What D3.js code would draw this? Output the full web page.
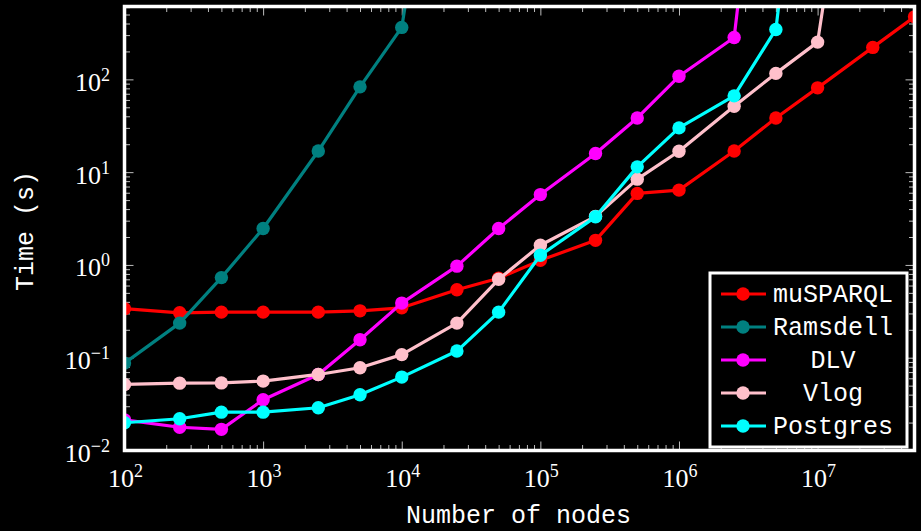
<!DOCTYPE html>
<html>
<head>
<meta charset="utf-8">
<script src="https://cdn.jsdelivr.net/npm/d3@7"></script>
<style>
  html, body { margin: 0; padding: 0; background: #000; }
  svg { display: block; }
</style>
</head>
<body>
<svg id="chart" width="921" height="531"></svg>
<script>
// Number of nodes at which every system was timed
const nodes = [100, 250, 500, 1000, 2500, 5000, 1e4, 2.5e4, 5e4, 1e5,
               2.5e5, 5e5, 1e6, 2.5e6, 5e6, 1e7, 2.5e7, 5e7];

// A run that did not finish is plotted far above the visible range
const TIMEOUT = 2e6;

// Running times in seconds, one entry per node count
const muSPARQL = [0.338, 0.305, 0.31, 0.31, 0.31, 0.32, 0.345, 0.54, 0.72, 1.12,
                  1.84, 5.9, 6.4, 16.9, 38.4, 81, 221, 472];
const ramsdell = [0.0875, 0.236, 0.73, 2.47, 16.9, 83, 363, TIMEOUT];
const dlv      = [0.0214, 0.0178, 0.0169, 0.0352, 0.066, 0.156, 0.388, 0.97, 2.47, 5.73,
                  15.9, 38.4, 108, 283, TIMEOUT];
const vlog     = [0.0515, 0.0532, 0.0535, 0.056, 0.066, 0.078, 0.108, 0.236, 0.70, 1.63,
                  3.34, 8.4, 16.8, 51.4, 116, 252, TIMEOUT];
const postgres = [0.0199, 0.022, 0.0259, 0.0259, 0.0289, 0.0399, 0.0618, 0.118, 0.31, 1.27,
                  3.3, 11.4, 30, 66.4, 345, TIMEOUT];

const seriesNames  = ["muSPARQL", "Ramsdell", "DLV", "Vlog", "Postgres"];
const seriesValues = [muSPARQL, ramsdell, dlv, vlog, postgres];
const seriesColors = ["#ff0000", "#008080", "#ff00ff", "#ffc0cb", "#00ffff"];

// Decade exponents shown as tick labels
const xExponents = [2, 3, 4, 5, 6, 7];
const yExponents = [-2, -1, 0, 1, 2];

const xTitle = "Number of nodes";
const yTitle = "Time (s)";

const plot = { left: 124.5, right: 914.5, top: 6.5, bottom: 450.5 };

const svg = d3.select("#chart");
svg.append("rect").attr("width", 921).attr("height", 531).attr("fill", "#000");

const x = d3.scaleLog().domain([100, 5e7]).range([plot.left, plot.right]);
const y = d3.scaleLog().domain([0.01, 610]).range([plot.bottom, plot.top]);

const xMajor = xExponents.map(e => Math.pow(10, e));
const yMajor = yExponents.map(e => Math.pow(10, e));
const minorOf = (majors, lo, hi) => {
  const out = [];
  majors.forEach(m => { for (let k = 2; k <= 9; k++) { const v = m * k; if (v > lo && v < hi) out.push(v); } });
  return out;
};
const xMinor = minorOf([1e2, 1e3, 1e4, 1e5, 1e6, 1e7], 100, 5e7);
const yMinor = minorOf([1e-2, 1e-1, 1, 10, 100], 0.01, 610);

// Inward tick marks on all four sides
const tickColor = "#bdbdbd";
function drawAxis(axis, transform) {
  const g = svg.append("g").attr("transform", transform).call(axis);
  g.select(".domain").remove();
  g.selectAll("line").attr("stroke", tickColor).attr("stroke-width", 1);
  g.selectAll("text").remove();
}
drawAxis(d3.axisBottom(x).tickValues(xMajor).tickSize(-9),   `translate(0,${plot.bottom})`);
drawAxis(d3.axisBottom(x).tickValues(xMinor).tickSize(-5.5), `translate(0,${plot.bottom})`);
drawAxis(d3.axisTop(x).tickValues(xMajor).tickSize(-9),      `translate(0,${plot.top})`);
drawAxis(d3.axisTop(x).tickValues(xMinor).tickSize(-5.5),    `translate(0,${plot.top})`);
drawAxis(d3.axisLeft(y).tickValues(yMajor).tickSize(-9),     `translate(${plot.left},0)`);
drawAxis(d3.axisLeft(y).tickValues(yMinor).tickSize(-5.5),   `translate(${plot.left},0)`);
drawAxis(d3.axisRight(y).tickValues(yMajor).tickSize(-9),    `translate(${plot.right},0)`);
drawAxis(d3.axisRight(y).tickValues(yMinor).tickSize(-5.5),  `translate(${plot.right},0)`);

// Power-of-ten tick labels
const serif = "'Liberation Serif', 'DejaVu Serif', serif";
const fmtExp = e => (e < 0 ? "\u2212" + (-e) : String(e));
function powLabel(sel, e) {
  sel.append("tspan").text("10");
  sel.append("tspan").attr("font-size", 18).attr("dy", -10).text(fmtExp(e));
}
xExponents.forEach(e => {
  const t = svg.append("text")
    .attr("x", x(Math.pow(10, e)) + 1)
    .attr("y", 486.5)
    .attr("text-anchor", "middle")
    .attr("font-family", serif).attr("font-size", 26).attr("fill", "#fff");
  powLabel(t, e);
});
yExponents.forEach(e => {
  const t = svg.append("text")
    .attr("x", 110)
    .attr("y", y(Math.pow(10, e)) + 11.5)
    .attr("text-anchor", "end")
    .attr("font-family", serif).attr("font-size", 26).attr("fill", "#fff");
  powLabel(t, e);
});

// Axis titles
const mono = "'Liberation Mono', 'DejaVu Sans Mono', monospace";
svg.append("text")
  .attr("x", 518.5).attr("y", 523)
  .attr("text-anchor", "middle")
  .attr("font-family", mono).attr("font-size", 25).attr("fill", "#fff")
  .text(xTitle);
svg.append("text")
  .attr("transform", "translate(33,231) rotate(-90)")
  .attr("text-anchor", "middle")
  .attr("font-family", mono).attr("font-size", 25).attr("fill", "#fff")
  .text(yTitle);

// Series
svg.append("clipPath").attr("id", "plotClip")
  .append("rect")
  .attr("x", plot.left).attr("y", plot.top)
  .attr("width", plot.right - plot.left).attr("height", plot.bottom - plot.top);

const line = d3.line().x(d => x(d.n)).y(d => y(d.t));
const layer = svg.append("g").attr("clip-path", "url(#plotClip)");
seriesValues.forEach((vals, i) => {
  const pts = vals.map((t, j) => ({ n: nodes[j], t }));
  const g = layer.append("g");
  g.append("path").datum(pts)
    .attr("d", line)
    .attr("fill", "none")
    .attr("stroke", seriesColors[i])
    .attr("stroke-width", 3.2)
    .attr("stroke-linejoin", "round");
  g.selectAll("circle").data(pts.filter(p => p.t <= 610)).enter().append("circle")
    .attr("cx", d => x(d.n)).attr("cy", d => y(d.t))
    .attr("r", 6.7)
    .attr("fill", seriesColors[i]);
});

// Frame
svg.append("rect")
  .attr("x", plot.left).attr("y", plot.top)
  .attr("width", plot.right - plot.left).attr("height", plot.bottom - plot.top)
  .attr("fill", "none").attr("stroke", "#fff").attr("stroke-width", 3.5);

// Legend
const legend = svg.append("g");
legend.append("rect")
  .attr("x", 710).attr("y", 273).attr("width", 197).attr("height", 174)
  .attr("fill", "#000").attr("stroke", "#fff").attr("stroke-width", 3);
seriesNames.forEach((name, i) => {
  const cy = 294 + i * 33;
  legend.append("line")
    .attr("x1", 721).attr("x2", 766).attr("y1", cy).attr("y2", cy)
    .attr("stroke", seriesColors[i]).attr("stroke-width", 3.2);
  legend.append("circle").attr("cx", 743).attr("cy", cy).attr("r", 6.7)
    .attr("fill", seriesColors[i]);
  legend.append("text")
    .attr("x", 833).attr("y", cy + 8)
    .attr("text-anchor", "middle")
    .attr("font-family", mono).attr("font-size", 25).attr("fill", "#fff")
    .text(name);
});
</script>
</body>
</html>
